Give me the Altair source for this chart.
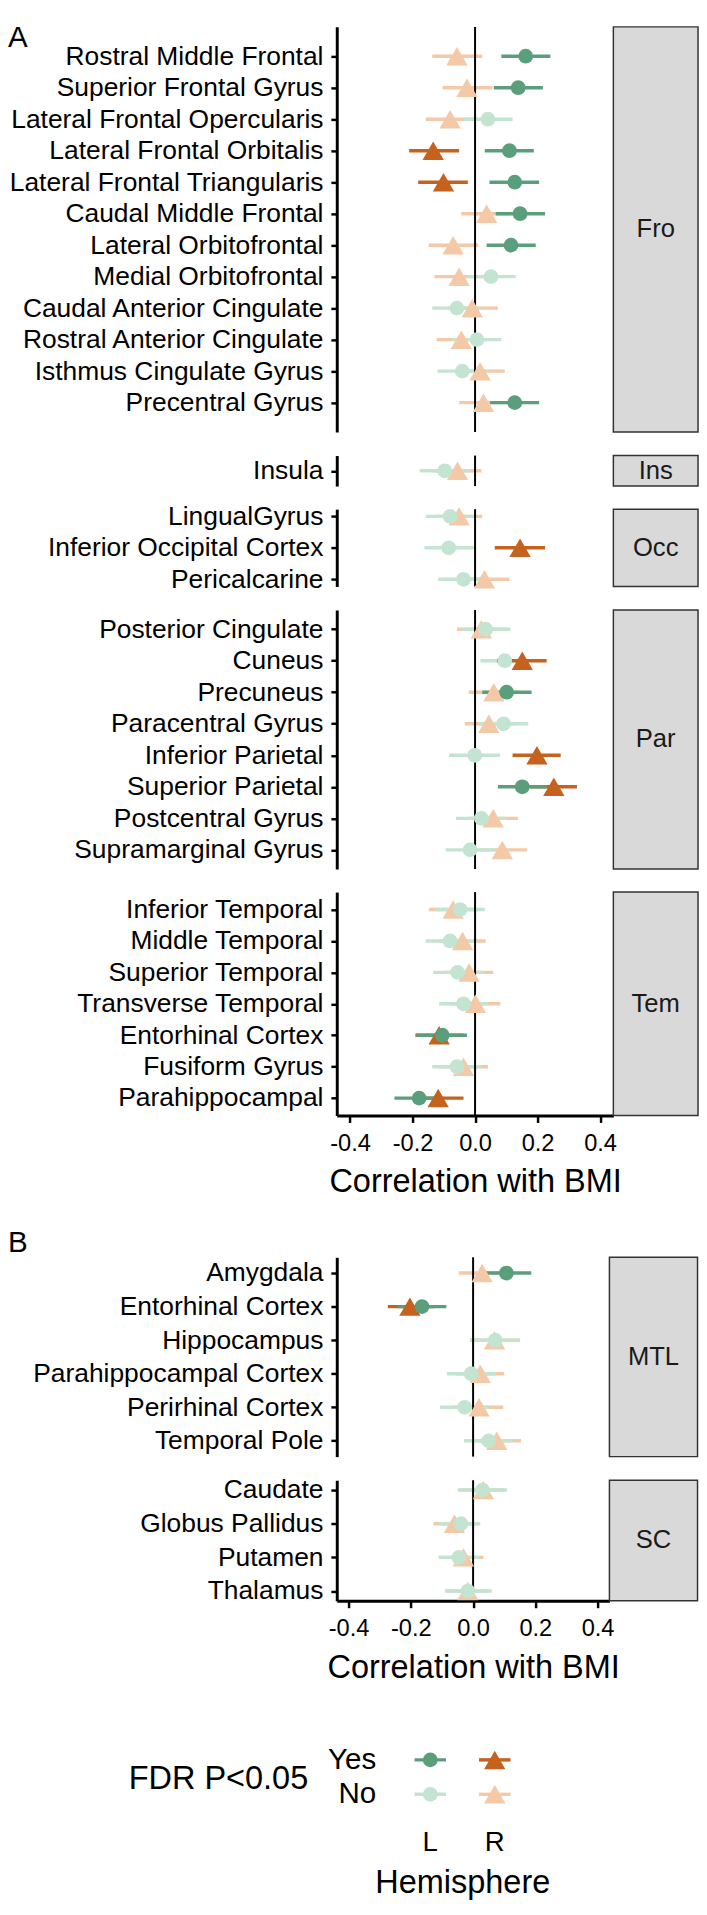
import altair as alt
import pandas as pd

FONT = "Liberation Sans"

# ---------------- data ----------------
fro_regions = ["Rostral Middle Frontal", "Superior Frontal Gyrus", "Lateral Frontal Opercularis",
               "Lateral Frontal Orbitalis", "Lateral Frontal Triangularis", "Caudal Middle Frontal",
               "Lateral Orbitofrontal", "Medial Orbitofrontal", "Caudal Anterior Cingulate",
               "Rostral Anterior Cingulate", "Isthmus Cingulate Gyrus", "Precentral Gyrus"]
fro_L_est = [0.162, 0.138, 0.041, 0.110, 0.127, 0.144, 0.115, 0.051, -0.058, 0.006, -0.041, 0.127]
fro_L_lo = [0.084, 0.060, -0.037, 0.031, 0.046, 0.066, 0.037, -0.027, -0.137, -0.073, -0.120, 0.048]
fro_L_hi = [0.241, 0.217, 0.120, 0.188, 0.205, 0.224, 0.194, 0.130, 0.020, 0.084, 0.038, 0.205]
fro_L_sig = ["Yes", "Yes", "No", "Yes", "Yes", "Yes", "Yes", "No", "No", "No", "No", "Yes"]
fro_R_est = [-0.058, -0.026, -0.080, -0.134, -0.101, 0.037, -0.070, -0.051, -0.009, -0.044, 0.016, 0.027]
fro_R_lo = [-0.137, -0.104, -0.158, -0.211, -0.182, -0.044, -0.148, -0.130, -0.087, -0.123, -0.063, -0.051]
fro_R_hi = [0.023, 0.056, -0.001, -0.051, -0.023, 0.113, 0.010, 0.027, 0.073, 0.034, 0.095, 0.105]
fro_R_sig = ["No", "No", "No", "Yes", "Yes", "No", "No", "No", "No", "No", "No", "No"]

ins_regions = ["Insula"]
ins_L_est = [-0.097]
ins_L_lo = [-0.177]
ins_L_hi = [-0.016]
ins_L_sig = ["No"]
ins_R_est = [-0.056]
ins_R_lo = [-0.137]
ins_R_hi = [0.020]
ins_R_sig = ["No"]

occ_regions = ["LingualGyrus", "Inferior Occipital Cortex", "Pericalcarine"]
occ_L_est = [-0.080, -0.084, -0.037]
occ_L_lo = [-0.158, -0.162, -0.118]
occ_L_hi = [-0.001, -0.004, 0.041]
occ_L_sig = ["No", "No", "No"]
occ_R_est = [-0.051, 0.144, 0.030]
occ_R_lo = [-0.130, 0.063, -0.048]
occ_R_hi = [0.023, 0.224, 0.110]
occ_R_sig = ["No", "Yes", "No"]

par_regions = ["Posterior Cingulate", "Cuneus", "Precuneus", "Paracentral Gyrus",
               "Inferior Parietal", "Superior Parietal", "Postcentral Gyrus", "Supramarginal Gyrus"]
par_L_est = [0.034, 0.095, 0.101, 0.091, -0.001, 0.151, 0.020, -0.016]
par_L_lo = [-0.044, 0.017, 0.023, 0.013, -0.083, 0.073, -0.061, -0.094]
par_L_hi = [0.113, 0.174, 0.181, 0.170, 0.080, 0.229, 0.098, 0.063]
par_L_sig = ["No", "No", "Yes", "No", "No", "Yes", "No", "No"]
par_R_est = [0.020, 0.151, 0.060, 0.044, 0.198, 0.252, 0.058, 0.087]
par_R_lo = [-0.058, 0.070, -0.020, -0.033, 0.120, 0.177, -0.020, 0.006]
par_R_hi = [0.101, 0.229, 0.141, 0.124, 0.274, 0.326, 0.137, 0.167]
par_R_sig = ["No", "Yes", "No", "No", "Yes", "Yes", "No", "No"]

tem_regions = ["Inferior Temporal", "Middle Temporal", "Superior Temporal", "Transverse Temporal",
               "Entorhinal Cortex", "Fusiform Gyrus", "Parahippocampal"]
tem_L_est = [-0.048, -0.080, -0.056, -0.037, -0.105, -0.058, -0.179]
tem_L_lo = [-0.127, -0.158, -0.134, -0.115, -0.187, -0.137, -0.258]
tem_L_hi = [0.031, 0.001, 0.024, 0.041, -0.026, 0.020, -0.101]
tem_L_sig = ["No", "No", "No", "No", "Yes", "No", "Yes"]
tem_R_est = [-0.070, -0.040, -0.019, 0.001, -0.115, -0.037, -0.118]
tem_R_lo = [-0.147, -0.118, -0.097, -0.080, -0.191, -0.115, -0.198]
tem_R_hi = [0.009, 0.034, 0.058, 0.081, -0.037, 0.041, -0.037]
tem_R_sig = ["No", "No", "No", "No", "Yes", "No", "Yes"]

mtl_regions = ["Amygdala", "Entorhinal Cortex", "Hippocampus", "Parahippocampal Cortex",
               "Perirhinal Cortex", "Temporal Pole"]
mtl_L_est = [0.107, -0.164, 0.071, -0.006, -0.027, 0.050]
mtl_L_lo = [0.030, -0.241, -0.010, -0.084, -0.106, -0.029]
mtl_L_hi = [0.187, -0.086, 0.151, 0.073, 0.051, 0.129]
mtl_L_sig = ["Yes", "Yes", "No", "No", "No", "No"]
mtl_R_est = [0.029, -0.203, 0.069, 0.023, 0.019, 0.076]
mtl_R_lo = [-0.046, -0.274, -0.010, -0.056, -0.063, -0.003]
mtl_R_hi = [0.104, -0.124, 0.147, 0.100, 0.097, 0.154]
mtl_R_sig = ["No", "Yes", "No", "No", "No", "No"]

sc_regions = ["Caudate", "Globus Pallidus", "Putamen", "Thalamus"]
sc_L_est = [0.030, -0.039, -0.046, -0.017]
sc_L_lo = [-0.049, -0.110, -0.110, -0.090]
sc_L_hi = [0.109, 0.023, 0.020, 0.060]
sc_L_sig = ["No", "No", "No", "No"]
sc_R_est = [0.033, -0.060, -0.031, -0.017]
sc_R_lo = [-0.039, -0.127, -0.110, -0.084]
sc_R_hi = [0.101, 0.016, 0.033, 0.050]
sc_R_sig = ["No", "No", "No", "No"]

x_ticks = [-0.4, -0.2, 0.0, 0.2, 0.4]
hemispheres = ["L", "R"]
sig_levels = ["Yes", "No"]
keys = ["L_Yes", "L_No", "R_Yes", "R_No"]
key_colors = ["#5b9e7c", "#c4e4d2", "#c5621d", "#f4c9a8"]

# ---------------- helpers ----------------
color_enc = alt.Color("Key:N", scale=alt.Scale(domain=keys, range=key_colors), legend=None)
shape_enc = alt.Shape("Hemi:N", scale=alt.Scale(domain=hemispheres, range=["circle", "triangle-up"]), legend=None)
size_enc = alt.Size("Hemi:N", scale=alt.Scale(domain=hemispheres, range=[225, 470]), legend=None)


def build_df(regions, le, ll, lh, ls, re, rl, rh, rs):
    rows = []
    for i, name in enumerate(regions):
        rows.append(dict(Region=name, Hemi="R", est=re[i], lo=rl[i], hi=rh[i], Sig=rs[i]))
        rows.append(dict(Region=name, Hemi="L", est=le[i], lo=ll[i], hi=lh[i], Sig=ls[i]))
    df = pd.DataFrame(rows)
    df["Key"] = df["Hemi"] + "_" + df["Sig"]
    df["rank"] = (df["Sig"] == "Yes").astype(int) * 2 + (df["Hemi"] == "L").astype(int)
    return df.sort_values("rank", kind="stable").reset_index(drop=True)


def corner_label(letter, ypos):
    return alt.Chart(pd.DataFrame({"t": [letter]})).mark_text(
        fontSize=30, align="left", baseline="alphabetic", font=FONT, color="black"
    ).encode(x=alt.value(-334), y=alt.value(ypos), text="t:N")


def panel(df, regions, strip, H, pad, W, xdom, strip_w, show_axis=False, corner=None):
    xs = alt.Scale(domain=xdom, nice=False, zero=False)
    if show_axis:
        xaxis = alt.Axis(values=x_ticks,
                         labelExpr="replace(format(datum.value, '.1f'), '\u2212', '-')",
                         labelFontSize=24, labelColor="black", labelFont=FONT,
                         tickSize=7, tickWidth=2.5, tickColor="black",
                         domainColor="black", domainWidth=3, labelPadding=9.5, grid=False,
                         title="Correlation with BMI", titleFontSize=33, titleFontWeight="normal",
                         titleColor="black", titleFont=FONT, titleY=51.4)
    else:
        xaxis = None
    yaxis = alt.Axis(title=None, labelFontSize=26.8, labelColor="black", labelFont=FONT,
                     labelLimit=600, tickSize=6, tickWidth=2.5, tickColor="black",
                     domainColor="black", domainWidth=3, labelPadding=8, grid=False)
    yenc = alt.Y("Region:N", sort=regions,
                 scale=alt.Scale(type="point", padding=pad, domain=regions), axis=yaxis)
    base = alt.Chart(df)
    rules = base.mark_rule(strokeWidth=3.5).encode(
        x=alt.X("lo:Q", scale=xs, axis=xaxis), x2="hi:Q", y=yenc, color=color_enc)
    pts = base.mark_point(filled=True, opacity=1, strokeWidth=0).encode(
        x=alt.X("est:Q", scale=xs, axis=xaxis), y=yenc, color=color_enc,
        shape=shape_enc, size=size_enc)
    zero = alt.Chart(pd.DataFrame({"z": [0]})).mark_rule(color="black", strokeWidth=2).encode(
        x=alt.X("z:Q", scale=xs, axis=xaxis))
    sdf = pd.DataFrame({"label": [strip]})
    rect = alt.Chart(sdf).mark_rect(fill="#d9d9d9", stroke="#333333", strokeWidth=1.5).encode(
        x=alt.value(W), x2=alt.value(W + strip_w), y=alt.value(0), y2=alt.value(H))
    stxt = alt.Chart(sdf).mark_text(fontSize=26, color="#1a1a1a", font=FONT).encode(
        x=alt.value(W + strip_w / 2), y=alt.value(H / 2), text="label:N")
    layers = [rules, zero, pts, rect, stxt]
    if corner is not None:
        layers.append(corner)
    return alt.layer(*layers).properties(width=W, height=H)


def spacer(W, H):
    return alt.Chart(pd.DataFrame({"s": [0]})).mark_rule(opacity=0).encode(
        x=alt.value(0), y=alt.value(0), y2=alt.value(1)).properties(width=W, height=H)


WA, DOMA = 281, [-0.4425, 0.4425]
WB, DOMB = 277, [-0.438, 0.438]

fro = panel(build_df(fro_regions, fro_L_est, fro_L_lo, fro_L_hi, fro_L_sig,
                     fro_R_est, fro_R_lo, fro_R_hi, fro_R_sig),
            fro_regions, "Fro", 411.5, 0.93, WA, DOMA, 86, corner=corner_label("A", 20))
ins = panel(build_df(ins_regions, ins_L_est, ins_L_lo, ins_L_hi, ins_L_sig,
                     ins_R_est, ins_R_lo, ins_R_hi, ins_R_sig),
            ins_regions, "Ins", 31, 0.5, WA, DOMA, 86)
occ = panel(build_df(occ_regions, occ_L_est, occ_L_lo, occ_L_hi, occ_L_sig,
                     occ_R_est, occ_R_lo, occ_R_hi, occ_R_sig),
            occ_regions, "Occ", 78.5, 0.227, WA, DOMA, 86)
par = panel(build_df(par_regions, par_L_est, par_L_lo, par_L_hi, par_L_sig,
                     par_R_est, par_R_lo, par_R_hi, par_R_sig),
            par_regions, "Par", 263, 0.605, WA, DOMA, 86)
tem = panel(build_df(tem_regions, tem_L_est, tem_L_lo, tem_L_hi, tem_L_sig,
                     tem_R_est, tem_R_lo, tem_R_hi, tem_R_sig),
            tem_regions, "Tem", 227, 0.555, WA, DOMA, 86, show_axis=True)

mtl = panel(build_df(mtl_regions, mtl_L_est, mtl_L_lo, mtl_L_hi, mtl_L_sig,
                     mtl_R_est, mtl_R_lo, mtl_R_hi, mtl_R_sig),
            mtl_regions, "MTL", 202.5, 0.47, WB, DOMB, 89.5, corner=corner_label("B", -5.7))
sc = panel(build_df(sc_regions, sc_L_est, sc_L_lo, sc_L_hi, sc_L_sig,
                    sc_R_est, sc_R_lo, sc_R_hi, sc_R_sig),
           sc_regions, "SC", 122.5, 0.29, WB, DOMB, 89.5, show_axis=True)

# ---------------- legend ----------------
leg_df = pd.DataFrame({"Hemi": ["L", "R", "L", "R"], "Sig": ["Yes", "Yes", "No", "No"]})
leg_df["Key"] = leg_df["Hemi"] + "_" + leg_df["Sig"]
LW, LH = 255.5, 69.2
xl = alt.X("Hemi:N", scale=alt.Scale(type="point", domain=hemispheres, range=[95, 160.5], padding=0),
           axis=None)
yl = alt.Y("Sig:N", scale=alt.Scale(type="point", domain=sig_levels, range=[17.1, 52.1], padding=0),
           axis=None)
lbase = alt.Chart(leg_df)
l_ticks = lbase.mark_tick(orient="horizontal", size=32, thickness=3.5, opacity=1).encode(
    x=xl, y=yl, color=color_enc)
l_pts = lbase.mark_point(filled=True, opacity=1, strokeWidth=0).encode(
    x=xl, y=yl, color=color_enc, shape=shape_enc, size=size_enc)
l_sig = alt.Chart(pd.DataFrame({"Sig": sig_levels})).mark_text(
    align="right", baseline="middle", fontSize=30, font=FONT, color="black").encode(
    x=alt.value(40), y=yl, text="Sig:N")
l_hemi = alt.Chart(pd.DataFrame({"Hemi": hemispheres})).mark_text(
    align="center", baseline="middle", fontSize=28, font=FONT, color="black").encode(
    x=xl, y=alt.value(102.1), text="Hemi:N")
l_title1 = alt.Chart(pd.DataFrame({"t": ["FDR P<0.05"]})).mark_text(
    align="right", baseline="middle", fontSize=33, font=FONT, color="black").encode(
    x=alt.value(-29), y=alt.value(36.4), text="t:N")
l_title2 = alt.Chart(pd.DataFrame({"t": ["Hemisphere"]})).mark_text(
    align="center", baseline="middle", fontSize=33, font=FONT, color="black").encode(
    x=alt.value(128), y=alt.value(142.1), text="t:N")
legend = alt.layer(l_ticks, l_pts, l_sig, l_hemi, l_title1, l_title2).properties(width=LW, height=LH)

GAP = 23.5
BIG = 143.7
chart = alt.vconcat(
    fro, ins, occ, par, tem, spacer(WA, BIG - 2 * GAP), mtl, sc, spacer(WA, BIG - 2 * GAP), legend,
    spacing=GAP, bounds="flush"
).resolve_scale(
    x="independent", y="independent"
).properties(padding=0, background="white").configure(font=FONT).configure_view(strokeOpacity=0)

chart.save("out.html", embed_options={"renderer": "svg", "actions": False})
